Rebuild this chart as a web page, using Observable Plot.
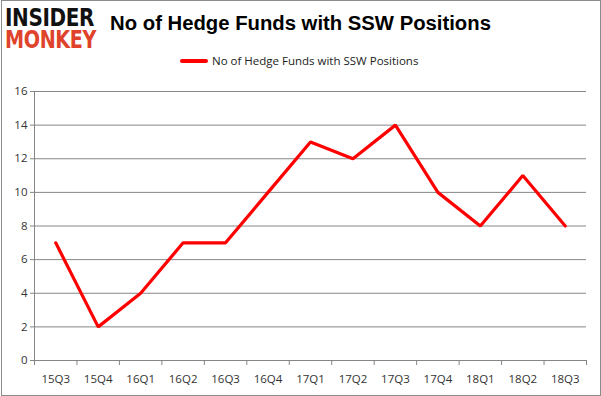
<!DOCTYPE html>
<html>
<head>
<meta charset="utf-8">
<script src="https://cdn.jsdelivr.net/npm/d3@7"></script>
<script src="https://cdn.jsdelivr.net/npm/@observablehq/plot@0.6"></script>
<style>
  html, body { margin: 0; padding: 0; background: #fff; }
  #wrap { position: relative; width: 601px; height: 396px; overflow: hidden; font-family: "Liberation Sans", Arial, sans-serif; }
  #border { position: absolute; left: 1px; top: 0; width: 600px; height: 396px; box-sizing: border-box; border: 1px solid #8c8c8c; }
  #logo { position: absolute; left: 5px; top: 7px; font-weight: bold; font-family: "DejaVu Sans", sans-serif; transform-origin: left top; transform: scaleX(0.8); letter-spacing: -0.5px; font-size: 25px; line-height: 22px; white-space: pre; }
  #logo .a { color: #111; }
  #logo .b { color: #e0432b; font-size: 24px; }
  #title { position: absolute; left: 0; width: 601px; top: 12px; text-align: center; font-size: 20.3px; font-weight: bold; color: #000; }
  #legend { position: absolute; top: 53px; left: 180px; font-family: "Open Sans", sans-serif; font-size: 11.5px; color: #222; display: flex; align-items: center; }
  #legend .sw { width: 28px; height: 4px; background: #ff0000; border-radius: 2px; margin-right: 4px; }
  #chart { position: absolute; left: 0; top: 80px; }
</style>
</head>
<body>
<div id="wrap">
  <div id="logo"><span class="a">INSIDER</span>
<span class="b">MONKEY</span></div>
  <div id="title">No of Hedge Funds with SSW Positions</div>
  <div id="legend"><span class="sw"></span><span id="legtext"></span></div>
  <div id="chart"></div>
  <div id="border"></div>
</div>
<script>
const seriesName = "No of Hedge Funds with SSW Positions";
const quarters = ["15Q3","15Q4","16Q1","16Q2","16Q3","16Q4","17Q1","17Q2","17Q3","17Q4","18Q1","18Q2","18Q3"];
const funds = [7, 2, 4, 7, 7, 10, 13, 12, 14, 10, 8, 11, 8];
const yTicks = [0, 2, 4, 6, 8, 10, 12, 14, 16];

document.getElementById("legtext").textContent = seriesName;

const data = quarters.map((q, i) => ({q, i, x: i + 0.5, v: funds[i]}));
const n = quarters.length;
const boundaries = d3.range(0, n + 1);
const gray = "#868686";

const plot = Plot.plot({
  width: 601,
  height: 316,
  marginTop: 11,
  marginBottom: 36,
  marginLeft: 34,
  marginRight: 15,
  style: { fontFamily: "'Open Sans', sans-serif", fontSize: "11.5px", color: "#333", background: "transparent" },
  x: { type: "linear", domain: [0, n], axis: null },
  y: { type: "linear", domain: [0, 16], axis: null },
  marks: [
    Plot.ruleY(yTicks, { stroke: gray, strokeWidth: 1 }),
    Plot.ruleX([0], { y1: 0, y2: 16, stroke: gray }),
    Plot.axisY({ ticks: yTicks, tickSize: 4, stroke: gray, tickPadding: 3, fill: "#333", label: null }),
    Plot.axisX({ ticks: boundaries, tickSize: 5, stroke: gray, tickFormat: () => "", label: null }),
    Plot.axisX({ ticks: data.map(d => d.x), tickSize: 0, tickPadding: 14, tickFormat: (d) => quarters[Math.round(d - 0.5)], label: null, fill: "#333" }),
    Plot.lineY(data, { x: "x", y: "v", stroke: "#ff0000", strokeWidth: 3.2, strokeLinejoin: "miter" })
  ]
});
document.getElementById("chart").appendChild(plot);
</script>
</body>
</html>
